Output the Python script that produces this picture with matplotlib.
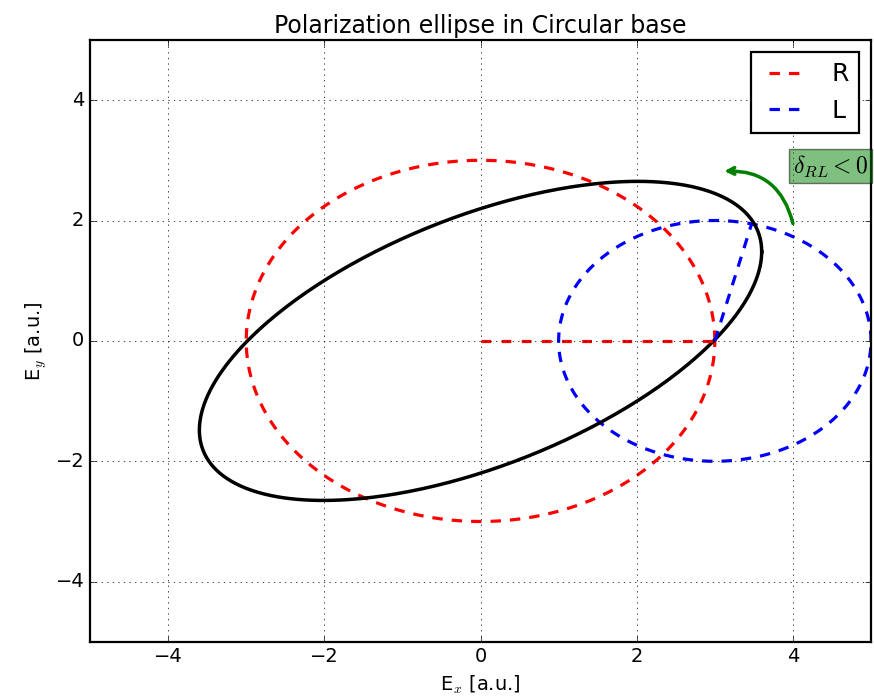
import numpy as np
import matplotlib
matplotlib.use("Agg")
import matplotlib.pyplot as plt

plt.style.use("classic")
plt.rcParams["lines.scale_dashes"] = False

# values
r_radius = 3.0
l_radius = 2.0
l_center = [3.0, 0.0]
ell_amp_x = 3.6       # Ex amplitude of the resulting ellipse
ell_amp_y = 2.65      # Ey amplitude
ell_phase_deg = 56.0  # phase between Ex and Ey
r_vec_x = [0.0, 3.0]
r_vec_y = [0.0, 0.0]
l_vec_x = [3.0, 3.47]
l_vec_y = [0.0, 1.94]
arrow_start = [4.0, 1.95]
arrow_end = [3.12, 2.82]
label_pos = [4.48, 2.9]
ticks = [-4, -2, 0, 2, 4]

DASH = (7.5, 6.5)
t = np.linspace(0, 2 * np.pi, 400)

fig = plt.figure(figsize=(8.74, 7), dpi=100, facecolor="white")
ax = fig.add_axes([0.103, 0.083, 0.8936, 0.86])

ax.plot(r_radius * np.cos(t), r_radius * np.sin(t), "r--", lw=2.3, dashes=DASH, label="R")
ax.plot(l_center[0] + l_radius * np.cos(t), l_center[1] + l_radius * np.sin(t),
        "b--", lw=2.3, dashes=DASH, label="L")
ph = np.deg2rad(ell_phase_deg)
ax.plot(ell_amp_x * np.cos(t), ell_amp_y * np.cos(t - ph), "k-", lw=2.5)
ax.plot(r_vec_x, r_vec_y, "r--", lw=2.3, dashes=(7, 7.5))
ax.plot(l_vec_x, l_vec_y, "b--", lw=2.3, dashes=DASH)

ax.annotate("", xy=arrow_end, xytext=arrow_start,
            arrowprops=dict(arrowstyle="->", color="green", lw=2.5,
                            connectionstyle="arc3,rad=0.4",
                            shrinkA=0, shrinkB=0))
ax.text(label_pos[0], label_pos[1], r"$\delta_{RL}<0$", fontsize=17,
        math_fontfamily="cm", ha="center", va="center",
        bbox=dict(facecolor="green", alpha=0.5, edgecolor="black", pad=3))

ax.set_xlim(-5, 5)
ax.set_ylim(-5, 5)
ax.set_xticks(ticks)
ax.set_yticks(ticks)
ax.tick_params(labelsize=14)
for s in ax.spines.values():
    s.set_linewidth(1.6)
ax.grid(True)
ax.set_title("Polarization ellipse in Circular base", fontsize=17)
ax.set_xlabel(r"E$_x$ [a.u.]", fontsize=14)
ax.set_ylabel(r"E$_y$ [a.u.]", fontsize=14)
leg = ax.legend(loc="upper right", fontsize=18, numpoints=2)
leg.get_frame().set_linewidth(1.6)

fig.savefig("out.png", dpi=100, facecolor="white")
